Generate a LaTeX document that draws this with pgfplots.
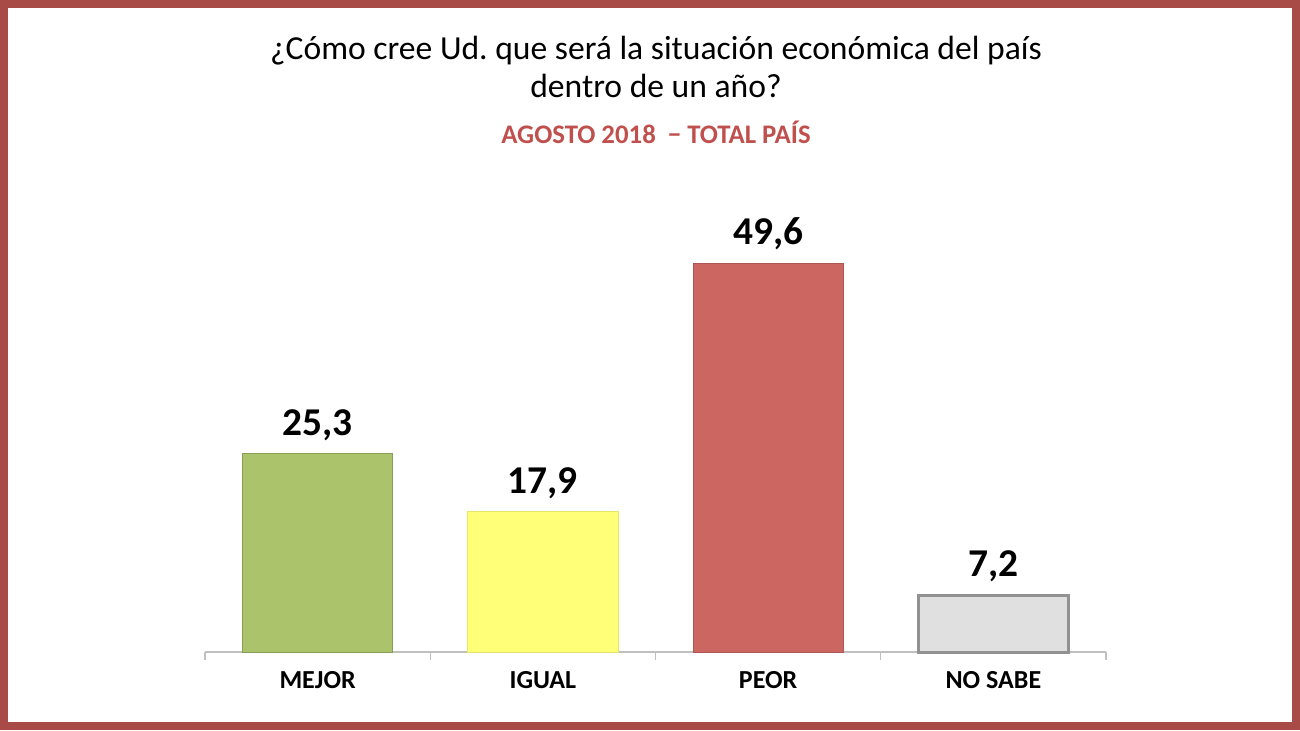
\documentclass[border=0pt]{standalone}
\usepackage{pgfplots}
\pgfplotsset{compat=1.18}
\usepackage{fontspec}
\setmainfont{Carlito}
\frenchspacing
\definecolor{frame}{HTML}{A84B47}
\definecolor{cgreen}{HTML}{ABC46B}
\definecolor{cyellow}{HTML}{FFFF78}
\definecolor{cred}{HTML}{CC6660}
\definecolor{cgrayf}{HTML}{E0E0E0}
\definecolor{cgrayb}{HTML}{929292}
\definecolor{axisgray}{HTML}{C0C0C0}
\definecolor{subred}{HTML}{C0504D}
\begin{document}
\begin{tikzpicture}[x=0.5pt,y=-0.5pt]
\draw[frame, line width=4pt] (4,4) rectangle (1296,726);
\node[anchor=base, font=\fontsize{16.8pt}{19pt}\selectfont] at (656,59) {¿Cómo cree Ud.\ que será la situación económica del país};
\node[anchor=base, font=\fontsize{16.8pt}{19pt}\selectfont] at (656,97) {dentro de un año?};
\node[anchor=base, font=\fontsize{13.4pt}{15pt}\selectfont\bfseries, text=subred] at (656,143) {AGOSTO 2018~~− TOTAL PAÍS};
\begin{axis}[
  at={(102.5pt,-326pt)}, anchor=south west,
  scale only axis, width=450.5pt, height=215.7pt,
  xmin=-0.5, xmax=3.5, ymin=0, ymax=55,
  axis x line*=bottom, axis y line=none,
  x axis line style={axisgray, line width=0.6pt, -},
  xtick={-0.5,0.5,1.5,2.5,3.5}, xticklabels={},
  major tick length=4pt, tick align=outside,
  xtick style={axisgray, line width=0.6pt},
  extra x ticks={0,1,2,3},
  extra x tick labels={MEJOR,IGUAL,PEOR,NO SABE},
  extra x tick style={major tick length=0pt, tick style={draw=none}},
  xticklabel style={font=\fontsize{13pt}{15pt}\selectfont\bfseries, yshift=-6pt},
  ybar, bar shift=0pt, bar width=0.667,
  nodes near coords={\pgfmathprintnumber[fixed, fixed zerofill, precision=1, use comma, assume math mode=true]{\pgfplotspointmeta}},
  nodes near coords style={font=\fontsize{19.7pt}{22pt}\selectfont\bfseries, yshift=3pt},
  point meta=explicit,
  clip=false,
]
\addplot[fill=cgreen, draw=cgreen!80!black, line width=0.4pt] coordinates {(0,25.3) [25.3]};
\addplot[fill=cyellow, draw=cyellow!90!black, line width=0.4pt] coordinates {(1,17.9) [17.9]};
\addplot[fill=cred, draw=cred!85!black, line width=0.4pt] coordinates {(2,49.6) [49.6]};
\addplot[fill=cgrayf, draw=cgrayb, line width=1.5pt] coordinates {(3,7.2) [7.2]};
\end{axis}
\end{tikzpicture}
\end{document}
